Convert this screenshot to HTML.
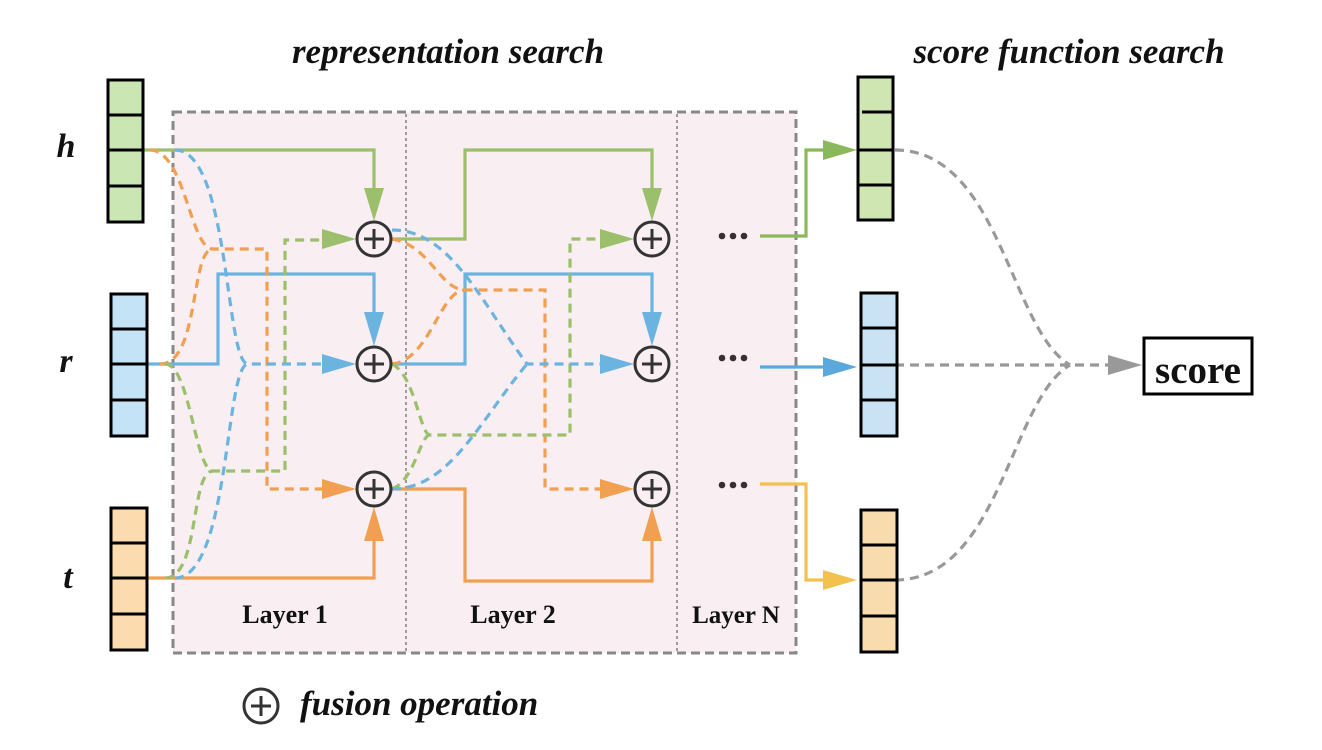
<!DOCTYPE html>
<html><head><meta charset="utf-8"><style>
html,body{margin:0;padding:0;background:#fff;}
svg{display:block;}
text{font-family:"Liberation Serif",serif;font-weight:bold;fill:#111;}
</style></head><body>
<svg width="1322" height="750" viewBox="0 0 1322 750" xmlns="http://www.w3.org/2000/svg">
<!-- titles -->
<text x="448" y="63" font-size="35" font-style="italic" text-anchor="middle">representation search</text>
<text x="1069" y="63" font-size="35" font-style="italic" text-anchor="middle">score function search</text>
<text x="66" y="157" font-size="34" font-style="italic" text-anchor="middle">h</text>
<text x="66" y="372" font-size="34" font-style="italic" text-anchor="middle">r</text>
<text x="68" y="588" font-size="34" font-style="italic" text-anchor="middle">t</text>

<!-- layer box -->
<rect x="173" y="112" width="623" height="541" fill="#f9eff3" stroke="#888" stroke-width="3" stroke-dasharray="9,5"/>
<line x1="406" y1="114" x2="406" y2="651" stroke="#888" stroke-width="1.6" stroke-dasharray="3,3"/>
<line x1="677" y1="114" x2="677" y2="651" stroke="#888" stroke-width="1.6" stroke-dasharray="3,3"/>
<text x="285" y="623" font-size="26" text-anchor="middle">Layer 1</text>
<text x="513" y="623" font-size="26" text-anchor="middle">Layer 2</text>
<text x="736" y="623" font-size="25" text-anchor="middle">Layer N</text>

<g fill="none" stroke-width="3.2">
<path d="M143,150H374V190" stroke="#9bbf6a"/>
<path d="M147,364H218V274H374V314" stroke="#6cb4e0"/>
<path d="M147,578H374V540" stroke="#f0a050"/>
<g stroke-dasharray="9,6">
<path d="M150,150C185,150 190,249 213,249H267V489H325" stroke="#f0a050"/>
<path d="M160,364C200,364 190,249 213,249" stroke="#f0a050"/>
<path d="M165,364C190,364 195,471 213,471H285V240H325" stroke="#9bbf6a"/>
<path d="M165,578C200,578 190,471 213,471" stroke="#9bbf6a"/>
<path d="M175,150C230,150 225,364 248,364H325" stroke="#6cb4e0"/>
<path d="M175,578C230,578 225,364 248,364" stroke="#6cb4e0"/>
</g>
<path d="M392,239H465V150H652V190" stroke="#9bbf6a"/>
<path d="M392,364H465V274H652V314" stroke="#6cb4e0"/>
<path d="M392,489H465V581H652V540" stroke="#f0a050"/>
<g stroke-dasharray="9,6">
<path d="M392,239C430,245 440,290 465,290H545V489H603" stroke="#f0a050"/>
<path d="M392,364C430,360 440,290 465,290" stroke="#f0a050"/>
<path d="M392,364C415,375 420,435 430,435H570V239H603" stroke="#9bbf6a"/>
<path d="M392,489C415,480 420,435 430,435" stroke="#9bbf6a"/>
<path d="M392,230C450,230 480,300 527,364H603" stroke="#6cb4e0"/>
<path d="M392,489C450,489 480,420 527,364" stroke="#6cb4e0"/>
</g>
<path d="M760,236H806V150H826" stroke="#8cb85c"/>
<path d="M760,367H826" stroke="#5aa8dc"/>
<path d="M760,484H806V580H826" stroke="#f2c14e"/>
<g stroke="#999" stroke-dasharray="9,6">
<path d="M895,150C1000,150 1010,330 1070,365"/>
<path d="M895,580C1000,580 1010,400 1070,365"/>
<path d="M895,365H1110"/>
</g>
</g>
<g>
<path d="M364,188L384,188L374,221z" fill="#9bbf6a"/>
<path d="M364,312L384,312L374,346z" fill="#6cb4e0"/>
<path d="M364,541L384,541L374,507z" fill="#f0a050"/>
<path d="M322,229L356,239L322,249z" fill="#9bbf6a"/>
<path d="M322,354L356,364L322,374z" fill="#6cb4e0"/>
<path d="M322,479L356,489L322,499z" fill="#f0a050"/>
<path d="M642,188L662,188L652,221z" fill="#9bbf6a"/>
<path d="M642,312L662,312L652,346z" fill="#6cb4e0"/>
<path d="M642,541L662,541L652,507z" fill="#f0a050"/>
<path d="M600,229L634,239L600,249z" fill="#9bbf6a"/>
<path d="M600,354L634,364L600,374z" fill="#6cb4e0"/>
<path d="M600,479L634,489L600,499z" fill="#f0a050"/>
<path d="M823,140L857,150L823,160z" fill="#8cb85c"/>
<path d="M823,357L857,367L823,377z" fill="#5aa8dc"/>
<path d="M823,570L857,580L823,590z" fill="#f2c14e"/>
<path d="M1108,355L1142,365L1108,375z" fill="#999"/>
</g>
<g fill="#f9eff3" stroke="#333" stroke-width="3">
<circle cx="374" cy="239" r="17"/><circle cx="374" cy="364" r="17"/><circle cx="374" cy="489" r="17"/>
<circle cx="652" cy="239" r="17"/><circle cx="652" cy="364" r="17"/><circle cx="652" cy="489" r="17"/>
<circle cx="261" cy="706" r="17" fill="#fff"/>
</g>
<g stroke="#333" stroke-width="3">
<path d="M364,239h20M374,229v20M364,364h20M374,354v20M364,489h20M374,479v20"/>
<path d="M642,239h20M652,229v20M642,364h20M652,354v20M642,489h20M652,479v20"/>
<path d="M251,706h20M261,696v20"/>
</g>
<text x="300" y="715" font-size="35" font-style="italic">fusion operation</text>
<g fill="#3a2e33">
<circle cx="722" cy="236" r="3.3"/><circle cx="733" cy="236" r="3.3"/><circle cx="744" cy="236" r="3.3"/>
<circle cx="722" cy="358" r="3.3"/><circle cx="733" cy="358" r="3.3"/><circle cx="744" cy="358" r="3.3"/>
<circle cx="722" cy="485" r="3.3"/><circle cx="733" cy="485" r="3.3"/><circle cx="744" cy="485" r="3.3"/>
</g>
<g stroke="#000" stroke-width="3">
<rect x="108" y="80" width="35" height="142" fill="#c9e6b3"/>
<path d="M108,115h35M108,150h35M108,186h35"/>
<rect x="111" y="294" width="36" height="142" fill="#c5e3f6"/>
<path d="M111,329h36M111,364h36M111,400h36"/>
<rect x="111" y="508" width="36" height="142" fill="#fcdcae"/>
<path d="M111,543h36M111,578h36M111,614h36"/>
<rect x="858" y="77" width="35" height="143" fill="#cfe6b3"/>
<path d="M862,112h31M858,150h35M858,185h35"/>
<rect x="861" y="293" width="36" height="143" fill="#c9e3f5"/>
<path d="M861,328h36M861,365h36M861,400h36"/>
<rect x="861" y="510" width="36" height="142" fill="#f8dcae"/>
<path d="M861,545h36M861,580h36M861,616h36"/>
<rect x="1144" y="338" width="108" height="56" fill="#fff"/>
</g>
<text x="1198" y="383" font-size="39" text-anchor="middle">score</text>
</svg>
</body></html>
